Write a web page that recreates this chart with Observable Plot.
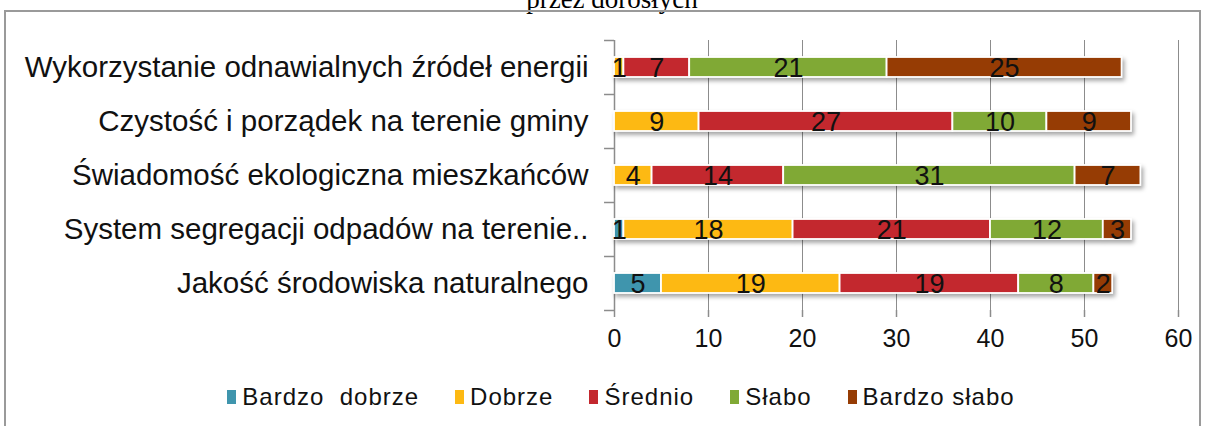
<!DOCTYPE html>
<html>
<head>
<meta charset="utf-8">
<script src="https://cdn.jsdelivr.net/npm/d3@7"></script>
<script src="https://cdn.jsdelivr.net/npm/@observablehq/plot@0.6"></script>
<style>
  html, body { margin: 0; padding: 0; background: #fff; overflow: hidden; }
  #wrap { position: relative; width: 1208px; height: 426px; overflow: hidden; background: #fff; }
  #title { position: absolute; top: -16px; left: 0; width: 1224px; text-align: center;
    font-family: "Liberation Serif", "DejaVu Serif", serif; font-size: 27px; color: #000; }
  #frame { position: absolute; left: 4px; top: 10px; width: 1197px; height: 430px;
    border: 2px solid #9a9a9a; box-sizing: border-box; }
  #chart { position: absolute; left: 0; top: 0; }
  #chart svg g[aria-label="bar"] { filter: drop-shadow(2px 3px 2px rgba(0,0,0,0.35)); }
  #legend { position: absolute; top: 383px; left: 0; width: 1242px; display: flex; justify-content: center;
    gap: 36px; font-family: "Liberation Sans", Arial, sans-serif; font-size: 24px; letter-spacing: 1px; color: #111; }
  #legend .item { display: flex; align-items: center; white-space: pre; }
  #legend .sw { width: 9px; height: 14px; margin-right: 6px; }
</style>
</head>
<body>
<div id="wrap">
  <div id="title">przez dorosłych</div>
  <div id="frame"></div>
  <div id="chart"></div>
  <div id="legend"></div>
</div>
<script>
const categories = [
  "Wykorzystanie odnawialnych źródeł energii",
  "Czystość i porządek na terenie gminy",
  "Świadomość ekologiczna mieszkańców",
  "System segregacji odpadów na terenie..",
  "Jakość środowiska naturalnego"
];
const seriesNames = ["Bardzo  dobrze", "Dobrze", "Średnio", "Słabo", "Bardzo słabo"];
const seriesColors = ["#3f95ad", "#fdb913", "#c3282e", "#80a935", "#963c04"];
const bardzoDobrze = [0, 0, 0, 1, 5];
const dobrze      = [1, 9, 4, 18, 19];
const srednio     = [7, 27, 14, 21, 19];
const slabo       = [21, 10, 31, 12, 8];
const bardzoSlabo = [25, 9, 7, 3, 2];
const xTicks = [0, 10, 20, 30, 40, 50, 60];

const seriesValues = [bardzoDobrze, dobrze, srednio, slabo, bardzoSlabo];
const data = [];
categories.forEach((c, i) => {
  seriesNames.forEach((s, j) => {
    const v = seriesValues[j][i];
    if (v > 0) data.push({category: c, series: s, value: v});
  });
});

const W = 1208, H = 426, mt = 40, mb = 116, ml = 614, mr = 30;
const step = (H - mt - mb) / categories.length;
const gray = "#8c8c8c";
const font = "Liberation Sans, Arial, sans-serif";

const stackOpts = {x: "value", y: "category", z: "series", order: seriesNames};

const chart = Plot.plot({
  width: W, height: H,
  marginTop: mt, marginBottom: mb, marginLeft: ml, marginRight: mr,
  style: {fontFamily: font, background: "transparent", overflow: "visible"},
  x: {domain: [0, 60], ticks: xTicks, label: null},
  y: {domain: categories, paddingInner: 0.63, paddingOuter: 0.315, label: null},
  color: {domain: seriesNames, range: seriesColors},
  marks: [
    Plot.gridX(xTicks.slice(1), {stroke: gray, strokeOpacity: 1, strokeWidth: 1}),
    Plot.ruleX([0], {stroke: gray, strokeWidth: 1.5}),
    Plot.ruleY(categories, {y: d => d, x1: -1.06, x2: 0, dy: -step / 2, stroke: gray, strokeWidth: 1.5}),
    Plot.ruleY(categories.slice(-1), {y: d => d, x1: -1.06, x2: 0, dy: step / 2, stroke: gray, strokeWidth: 1.5}),
    Plot.axisX({ticks: xTicks, tickSize: 7, tickPadding: 12, fontSize: 25, stroke: gray, strokeWidth: 1.5, line: true, color: "#111", label: null}),
    Plot.axisY({tickSize: 0, tickPadding: 26, fontSize: 29.5, color: "#111", label: null}),
    Plot.barX(data, Plot.stackX({...stackOpts, fill: "series", stroke: "white", strokeWidth: 1.8})),
    Plot.text(data, Plot.stackX({...stackOpts, text: d => String(d.value), fill: "#111", fontSize: 27, dy: 1}))
  ]
});
document.getElementById("chart").appendChild(chart);

const legend = document.getElementById("legend");
seriesNames.forEach((s, i) => {
  const item = document.createElement("div");
  item.className = "item";
  const sw = document.createElement("span");
  sw.className = "sw";
  sw.style.background = seriesColors[i];
  const t = document.createElement("span");
  t.textContent = s;
  item.appendChild(sw); item.appendChild(t);
  legend.appendChild(item);
});
</script>
</body>
</html>
